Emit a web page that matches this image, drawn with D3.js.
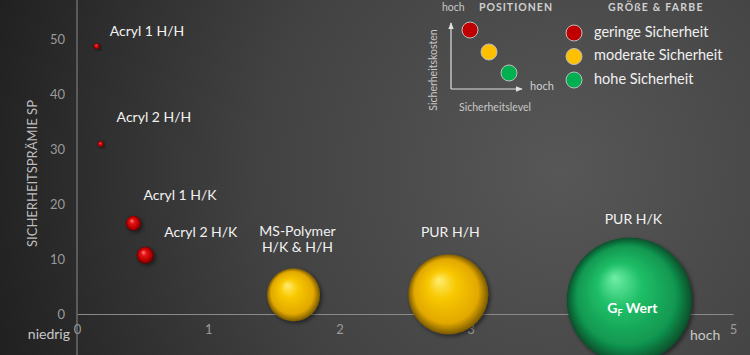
<!DOCTYPE html>
<html><head><meta charset="utf-8">
<script src="https://cdn.jsdelivr.net/npm/d3@7"></script>
<style>html,body{margin:0;padding:0;background:#2a2a2a;}svg{display:block;}</style>
</head><body>
<svg id="chart" width="750" height="355"></svg>
<script>
// ---- data ----
const labels = ["Acryl 1 H/H","Acryl 2 H/H","Acryl 1 H/K","Acryl 2 H/K","MS-Polymer|H/K & H/H","PUR H/H","PUR H/K"];
const xVals = [0.15, 0.18, 0.43, 0.52, 1.65, 2.83, 4.21];
const yVals = [48.7, 30.9, 16.5, 10.7, 3.5, 3.6, 2.5];
const sizes = [0.22, 0.22, 1.45, 1.85, 18, 41, 100];
const levels = ["gering","gering","gering","gering","moderat","moderat","hoch"];
const xTicks = [0,1,2,3,4,5];
const yTicks = [0,10,20,30,40,50];
const legendLevels = ["gering","moderat","hoch"];
const legendTexts = ["geringe Sicherheit","moderate Sicherheit","hohe Sicherheit"];

// layout config (label placement relative to bubble)
const labelPos = [
  {anchor:"start", dx:13, dy:-14},
  {anchor:"start", dx:16, dy:-26},
  {anchor:"start", dx:10, dy:-27},
  {anchor:"start", dx:19, dy:-22},
  {anchor:"middle", dx:4, dy:-63},
  {anchor:"middle", dx:2, dy:-61},
  {anchor:"middle", dx:4, dy:-80}
];

const W = 750, H = 355;
const svg = d3.select("#chart");
const FONT = "Lato, 'Open Sans', sans-serif";

const defs = svg.append("defs");
const bg = defs.append("radialGradient").attr("id","bg")
  .attr("gradientUnits","userSpaceOnUse").attr("cx",560).attr("cy",170).attr("r",600);
bg.append("stop").attr("offset","0%").attr("stop-color","#575757");
bg.append("stop").attr("offset","50%").attr("stop-color","#424242");
bg.append("stop").attr("offset","100%").attr("stop-color","#1f1f1f");

const sphereCols = {
  gering: ["#ff7a7a","#e01010","#b00000","#5a0000"],
  moderat:["#ffec70","#f8c800","#e2a800","#7a5a00"],
  hoch:   ["#70eea8","#20c068","#119650","#06502a"]
};
const flatCols = {gering:"#c00000", moderat:"#ffc000", hoch:"#00b050"};
Object.entries(sphereCols).forEach(([k,c])=>{
  const g = defs.append("radialGradient").attr("id","sp-"+k)
    .attr("cx","50%").attr("cy","50%").attr("r","50%").attr("fx","38%").attr("fy","32%");
  g.append("stop").attr("offset","0%").attr("stop-color",c[0]);
  g.append("stop").attr("offset","35%").attr("stop-color",c[1]);
  g.append("stop").attr("offset","80%").attr("stop-color",c[2]);
  g.append("stop").attr("offset","100%").attr("stop-color",c[3]);
});
const shadow = defs.append("filter").attr("id","shadow").attr("x","-30%").attr("y","-30%").attr("width","160%").attr("height","160%");
shadow.append("feDropShadow").attr("dx",2).attr("dy",2).attr("stdDeviation",2).attr("flood-color","#000").attr("flood-opacity",0.5);

svg.append("rect").attr("width",W).attr("height",H).attr("fill","url(#bg)");

// ---- scales ----
const x = d3.scaleLinear().domain([0,5]).range([77,733]);
const y = d3.scaleLinear().domain([0,50]).range([314,39]);
const r = d3.scaleSqrt().domain([0,100]).range([0,62.5]);

// axes
const gx = svg.append("g").attr("transform",`translate(0,${y(0)})`)
  .call(d3.axisBottom(x).tickValues(xTicks).tickSize(0).tickPadding(11).tickFormat(d3.format("d")));
gx.select(".domain").attr("stroke","#8a8a8a").attr("stroke-width",1);
gx.selectAll("text").attr("fill","#9a9a9a").attr("font-size",13).attr("font-family",FONT);

const gy = svg.append("g").attr("transform",`translate(${x(0)},0)`)
  .call(d3.axisLeft(y).tickValues(yTicks).tickSize(0).tickPadding(12).tickFormat(d3.format("d")));
gy.select(".domain").remove();
gy.selectAll("text").attr("fill","#9a9a9a").attr("font-size",13).attr("font-family",FONT);
svg.append("line").attr("x1",x(0)).attr("x2",x(0)).attr("y1",0).attr("y2",H)
  .attr("stroke","#8a8a8a").attr("stroke-width",1);

svg.append("text").attr("transform",`translate(34,${(y(0)+y(50))/2 - 3}) rotate(-90)`)
  .attr("text-anchor","middle").attr("dominant-baseline","middle")
  .attr("fill","#bdbdbd").attr("font-size",13).attr("font-family",FONT).text("SICHERHEITSPRÄMIE SP");
svg.append("text").attr("x",70).attr("y",339).attr("text-anchor","end")
  .attr("fill","#c8c8c8").attr("font-size",14).attr("font-family",FONT).text("niedrig");
svg.append("text").attr("x",690).attr("y",340)
  .attr("fill","#c8c8c8").attr("font-size",14).attr("font-family",FONT).text("hoch");

// ---- bubbles ----
const data = labels.map((l,i)=>({label:l,x:xVals[i],y:yVals[i],s:sizes[i],lv:levels[i],lp:labelPos[i]}));
svg.append("g").selectAll("circle").data(data).join("circle")
  .attr("cx",d=>x(d.x)).attr("cy",d=>y(d.y)).attr("r",d=>r(d.s))
  .attr("fill",d=>"url(#sp-"+d.lv+")").attr("filter","url(#shadow)");

// labels
const lab = svg.append("g").selectAll("text").data(data).join("text")
  .attr("x",d=>x(d.x)+d.lp.dx).attr("y",d=>y(d.y)+d.lp.dy)
  .attr("text-anchor",d=>d.lp.anchor).attr("dominant-baseline","middle")
  .attr("fill","#f2f2f2").attr("font-size",14).attr("font-family",FONT);
lab.each(function(d){
  const parts = d.label.split("|");
  const t = d3.select(this);
  parts.forEach((p,j)=>{
    t.append("tspan").attr("x",x(d.x)+d.lp.dx).attr("dy",j===0?0:16).text(p);
  });
});

// GF Wert in largest bubble
const big = data[data.length-1];
const gf = svg.append("text").attr("x",x(big.x)-22).attr("y",y(big.y)+13)
  .attr("fill","#ffffff").attr("font-size",14).attr("font-weight","bold").attr("font-family",FONT);
gf.append("tspan").text("G");
gf.append("tspan").attr("font-size",9).attr("dy",3).text("F");
gf.append("tspan").attr("dy",-3).attr("dx",3).text("Wert");

// ---- legend ----
const lg = svg.append("g");
lg.append("text").attr("x",442).attr("y",11).attr("fill","#c8c8c8").attr("font-size",10.5).attr("font-family",FONT).text("hoch");
lg.append("text").attr("x",479).attr("y",11).attr("fill","#d0d0d0").attr("font-size",10.5).attr("font-weight","bold")
  .attr("letter-spacing",1).attr("font-family",FONT).text("POSITIONEN");
lg.append("text").attr("x",608).attr("y",11).attr("fill","#d0d0d0").attr("font-size",10.5).attr("font-weight","bold")
  .attr("letter-spacing",1.2).attr("font-family",FONT).text("GRÖßE & FARBE");
// mini axes with arrows
defs.append("marker").attr("id","arr").attr("viewBox","0 0 10 10").attr("refX",9).attr("refY",5)
  .attr("markerWidth",6).attr("markerHeight",6).attr("orient","auto")
  .append("path").attr("d","M0,1 L10,5 L0,9 Z").attr("fill","#e0e0e0");
lg.append("path").attr("d","M451,89 L451,23").attr("stroke","#e0e0e0").attr("stroke-width",1.2).attr("marker-end","url(#arr)");
lg.append("path").attr("d","M451,89 L522,89").attr("stroke","#e0e0e0").attr("stroke-width",1.2).attr("marker-end","url(#arr)");
lg.append("text").attr("x",530).attr("y",90).attr("fill","#d0d0d0").attr("font-size",11).attr("font-family",FONT).text("hoch");
lg.append("text").attr("x",495).attr("y",111).attr("text-anchor","middle").attr("fill","#c8c8c8").attr("font-size",10.5).attr("font-family",FONT).text("Sicherheitslevel");
lg.append("text").attr("transform","translate(437,70) rotate(-90)").attr("text-anchor","middle")
  .attr("fill","#c8c8c8").attr("font-size",10.5).attr("font-family",FONT).text("Sicherheitskosten");
const posPts = [[470,30],[489,52],[509,73]];
lg.selectAll("circle.pos").data(legendLevels).join("circle").attr("class","pos")
  .attr("cx",(d,i)=>posPts[i][0]).attr("cy",(d,i)=>posPts[i][1]).attr("r",8)
  .attr("fill",d=>flatCols[d]).attr("stroke","#bdbdbd").attr("stroke-width",1);
const legY = d3.scalePoint().domain(legendLevels).range([33,80]);
lg.selectAll("circle.sz").data(legendLevels).join("circle").attr("class","sz")
  .attr("cx",574).attr("cy",d=>legY(d)).attr("r",8)
  .attr("fill",d=>flatCols[d]).attr("stroke","#bdbdbd").attr("stroke-width",1);
lg.selectAll("text.lt").data(legendTexts).join("text").attr("class","lt")
  .attr("x",594).attr("y",(d,i)=>legY(legendLevels[i])).attr("dominant-baseline","middle")
  .attr("fill","#f0f0f0").attr("font-size",14.5).attr("font-family",FONT).text(d=>d);
</script>
</body></html>
